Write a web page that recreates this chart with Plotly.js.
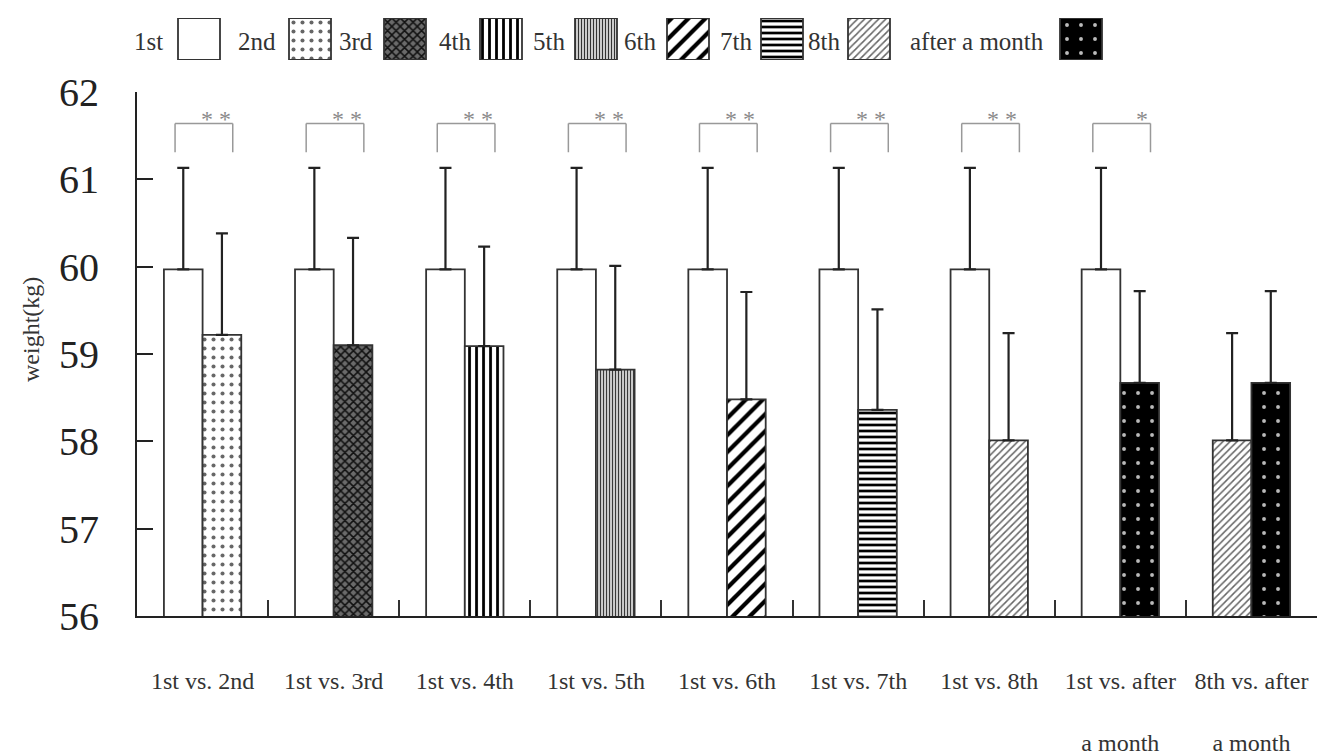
<!DOCTYPE html>
<html><head><meta charset="utf-8">
<script src="https://cdn.plot.ly/plotly-3.0.1.min.js"></script>
<style>html,body{margin:0;padding:0;background:#fff}#chart{width:1319px;height:755px}</style>
</head><body><div id="chart"></div>
<script>
// ---- data ----
const categories = ["1st vs. 2nd","1st vs. 3rd","1st vs. 4th","1st vs. 5th","1st vs. 6th","1st vs. 7th","1st vs. 8th","1st vs. after<br><br>a month","8th vs. after<br><br>a month"];
const leftSeries = ["1st","1st","1st","1st","1st","1st","1st","1st","8th"];
const leftValues = [59.97,59.97,59.97,59.97,59.97,59.97,59.97,59.97,58.01];
const leftSD = [1.16,1.16,1.16,1.16,1.16,1.16,1.16,1.16,1.23];
const rightSeries = ["2nd","3rd","4th","5th","6th","7th","8th","after a month","after a month"];
const rightValues = [59.22,59.10,59.09,58.82,58.48,58.36,58.01,58.67,58.67];
const rightSD = [1.16,1.23,1.14,1.19,1.23,1.15,1.23,1.05,1.05];
const sigLabels = ["* *","* *","* *","* *","* *","* *","* *","*",""];
const legendLabels = ["1st","2nd","3rd","4th","5th","6th","7th","8th","after a month"];
const yTitle = "weight(kg)";

// ---- styles / layout constants ----
const STYLE = {
  "1st": {shape:"",  bg:"#ffffff", fg:"#000000", size:8,  sol:0.3},
  "2nd": {shape:".", bg:"#ffffff", fg:"#666666", size:9,  sol:0.16},
  "3rd": {shape:"x", bg:"#6a6a6a", fg:"#111111", size:6,  sol:0.45},
  "4th": {shape:"|", bg:"#ffffff", fg:"#000000", size:7,  sol:0.4},
  "5th": {shape:"|", bg:"#ffffff", fg:"#333333", size:3,  sol:0.5},
  "6th": {shape:"/", bg:"#ffffff", fg:"#000000", size:12, sol:0.35},
  "7th": {shape:"-", bg:"#ffffff", fg:"#000000", size:6,  sol:0.45},
  "8th": {shape:"/", bg:"#ffffff", fg:"#666666", size:5,  sol:0.3},
  "after a month": {shape:".", bg:"#000000", fg:"#bbbbbb", size:14, sol:0.06}
};
const legendSwatchX = [199,310,405,501,596,688,782,869,1081];
const legendTextX = [148,257,356,455,549,640,736,824,977];
const SERIF = '"Liberation Serif", "Times New Roman", serif';

function markerFor(names){
  return {
    color: '#ffffff',
    line:{color:'#333', width:1.8},
    pattern:{
      fillmode:'replace',
      shape: names.map(n=>STYLE[n].shape),
      bgcolor: names.map(n=>STYLE[n].bg),
      fgcolor: names.map(n=>STYLE[n].fg),
      size: names.map(n=>STYLE[n].size),
      solidity: names.map(n=>STYLE[n].sol)
    }
  };
}
function errFor(sd){
  return {type:'data', symmetric:false, array:sd, arrayminus:sd.map(()=>0), color:'#222', thickness:2.2, width:6};
}

const traces = [
  {type:'bar', x:categories, y:leftValues, name:'left', customdata:leftSeries, marker:markerFor(leftSeries), error_y:errFor(leftSD), hoverinfo:'x+y'},
  {type:'bar', x:categories, y:rightValues, name:'right', customdata:rightSeries, marker:markerFor(rightSeries), error_y:errFor(rightSD), hoverinfo:'x+y'},
  {type:'bar', x:legendSwatchX, y:legendLabels.map(()=>1), width:42, xaxis:'x2', yaxis:'y2', marker:markerFor(legendLabels), hoverinfo:'skip'}
];

const shapes = [];
const annotations = [];
const BR_L = -0.21, BR_R = 0.23, BR_TOP = 61.64, BR_BOT = 61.31;
sigLabels.forEach((s,i)=>{
  if(!s) return;
  const ln = {type:'line', xref:'x', yref:'y', line:{color:'#999', width:1.5}};
  shapes.push(Object.assign({}, ln, {x0:i+BR_L, x1:i+BR_R, y0:BR_TOP, y1:BR_TOP}));
  shapes.push(Object.assign({}, ln, {x0:i+BR_L, x1:i+BR_L, y0:BR_TOP, y1:BR_BOT}));
  shapes.push(Object.assign({}, ln, {x0:i+BR_R, x1:i+BR_R, y0:BR_TOP, y1:BR_BOT}));
  annotations.push({xref:'x', yref:'y', x:i+BR_R, y:BR_TOP, xanchor:'right', yanchor:'bottom', yshift:-11, text:s, showarrow:false, font:{family:SERIF, size:24, color:'#8a8a8a'}});
});
legendLabels.forEach((t,i)=>{
  annotations.push({xref:'x2', yref:'y2', x:legendTextX[i], y:0.45, xanchor:'center', yanchor:'middle', text:t, showarrow:false, font:{family:SERIF, size:25, color:'#333'}});
});
annotations.push({xref:'x2', yref:'paper', x:31, y:0.472, textangle:-90, text:yTitle, showarrow:false, xanchor:'center', yanchor:'middle', font:{family:SERIF, size:24, color:'#333'}});

const layout = {
  width:1319, height:755,
  margin:{l:10, r:2, t:10, b:139},
  paper_bgcolor:'#ffffff', plot_bgcolor:'rgba(0,0,0,0)',
  font:{family:SERIF, color:'#2a2a2a'},
  barmode:'group', bargap:0.41, bargroupgap:0,
  showlegend:false,
  xaxis:{type:'category', domain:[0.0972,1], tickson:'boundaries', ticks:'inside', ticklen:16, tickwidth:2, tickcolor:'#333',
         showline:true, linecolor:'#222', linewidth:2, tickfont:{size:24, color:'#333'}, ticklabelstandoff:42,
         showgrid:false, zeroline:false, automargin:false},
  yaxis:{domain:[0,0.8647], range:[56,62], dtick:1, ticks:'inside', ticklen:16, tickwidth:2, tickcolor:'#222',
         showline:true, linecolor:'#222', linewidth:2, tickfont:{size:40, color:'#222'}, ticklabelstandoff:28,
         showgrid:false, zeroline:false, automargin:false},
  xaxis2:{domain:[0,1], range:[10,1317], anchor:'y2', visible:false, fixedrange:true},
  yaxis2:{domain:[0.9175,0.9868], range:[0,1], anchor:'x2', visible:false, fixedrange:true},
  shapes:shapes, annotations:annotations
};

Plotly.newPlot('chart', traces, layout, {displayModeBar:false, staticPlot:true});
</script></body></html>
